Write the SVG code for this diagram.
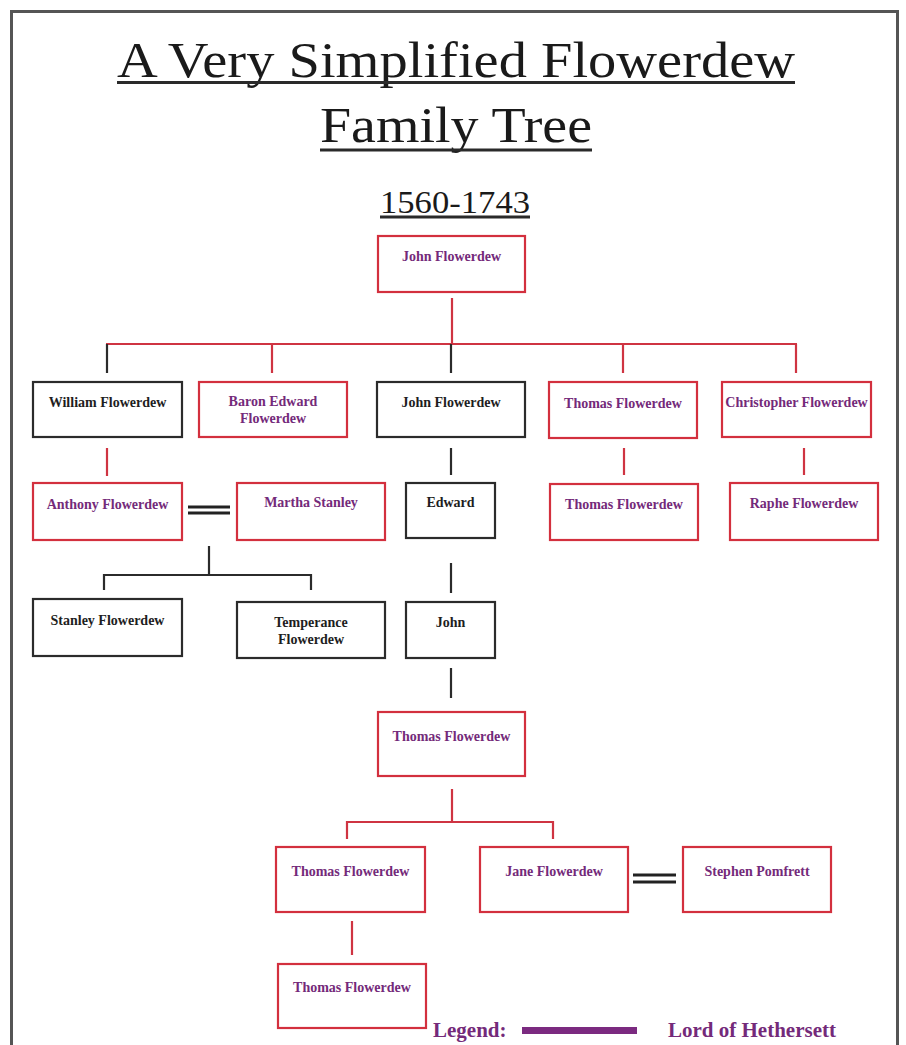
<svg xmlns="http://www.w3.org/2000/svg" width="906" height="1045" viewBox="0 0 906 1045">
<style>
.title{font-family:"Liberation Serif","Times New Roman",serif;fill:#1a1a1a}
.ul{stroke:#2a2a2a;stroke-width:3}
.rb{fill:#fff;stroke:#d3303e;stroke-width:2.2}
.bb{fill:#fff;stroke:#2b2b2b;stroke-width:2.2}
.pt{font-family:"Liberation Serif","Times New Roman",serif;font-weight:bold;font-size:14px;fill:#742a7a;text-anchor:middle}
.bt{font-family:"Liberation Serif","Times New Roman",serif;font-weight:bold;font-size:14px;fill:#1e1e1e;text-anchor:middle}
.rl{stroke:#cf3442;stroke-width:2.2;fill:none}
.dl{stroke:#2b2b2b;stroke-width:2.2;fill:none}
.eq{stroke:#222;stroke-width:3}
.leg{font-family:"Liberation Serif","Times New Roman",serif;font-weight:bold;font-size:21px;fill:#742a7a}
</style>
<rect width="906" height="1045" fill="#fff"/>
<path d="M11.5,1045 V11.5 H897.5 V1045" fill="none" stroke="#555" stroke-width="3"/>

<g id="title">
<text class="title" x="117" y="77" font-size="50" textLength="678" lengthAdjust="spacingAndGlyphs">A Very Simplified Flowerdew</text>
<line class="ul" x1="117" y1="82.5" x2="795" y2="82.5"/>
<text class="title" x="320" y="142" font-size="50" textLength="272" lengthAdjust="spacingAndGlyphs">Family Tree</text>
<line class="ul" x1="320" y1="150" x2="592" y2="150"/>
<text class="title" x="380" y="212.5" font-size="31" textLength="150" lengthAdjust="spacingAndGlyphs">1560-1743</text>
<line class="ul" x1="380" y1="217" x2="530" y2="217"/>
</g>

<g id="connectors">
<line class="rl" x1="452" y1="298" x2="452" y2="344"/>
<line class="rl" x1="106" y1="344" x2="797" y2="344"/>
<line class="dl" x1="107" y1="344" x2="107" y2="373"/>
<line class="rl" x1="272" y1="344" x2="272" y2="373"/>
<line class="dl" x1="451" y1="344" x2="451" y2="373"/>
<line class="rl" x1="623" y1="344" x2="623" y2="373"/>
<line class="rl" x1="796" y1="344" x2="796" y2="373"/>
<line class="rl" x1="107" y1="448" x2="107" y2="476"/>
<line class="dl" x1="451" y1="448" x2="451" y2="475"/>
<line class="rl" x1="624" y1="448" x2="624" y2="475"/>
<line class="rl" x1="804" y1="448" x2="804" y2="475"/>
<line class="eq" x1="188" y1="507" x2="230" y2="507"/>
<line class="eq" x1="188" y1="513" x2="230" y2="513"/>
<line class="dl" x1="209" y1="546" x2="209" y2="575"/>
<path class="dl" d="M104,590 V575 H311 V590"/>
<line class="dl" x1="451" y1="563" x2="451" y2="593"/>
<line class="dl" x1="451" y1="668" x2="451" y2="698"/>
<line class="rl" x1="452" y1="789" x2="452" y2="822"/>
<path class="rl" d="M347,839 V822 H553 V839"/>
<line class="eq" x1="633" y1="875" x2="676" y2="875"/>
<line class="eq" x1="633" y1="882" x2="676" y2="882"/>
<line class="rl" x1="352" y1="921" x2="352" y2="955"/>
</g>

<g id="n-john-top"><rect class="rb" x="378" y="236" width="147" height="56"/><text class="pt" x="451.5" y="261">John Flowerdew</text></g>

<g id="n-william"><rect class="bb" x="33" y="382" width="149" height="55"/><text class="bt" x="107.5" y="407">William Flowerdew</text></g>
<g id="n-baron-edward"><rect class="rb" x="199" y="382" width="148" height="55"/><text class="pt" x="273" y="406">Baron Edward</text><text class="pt" x="273" y="423">Flowerdew</text></g>
<g id="n-john-2"><rect class="bb" x="377" y="382" width="148" height="55"/><text class="bt" x="451" y="407">John Flowerdew</text></g>
<g id="n-thomas-2"><rect class="rb" x="549" y="382" width="148" height="56"/><text class="pt" x="623" y="408">Thomas Flowerdew</text></g>
<g id="n-christopher"><rect class="rb" x="722" y="382" width="149" height="55"/><text class="pt" x="796.5" y="407">Christopher Flowerdew</text></g>

<g id="n-anthony"><rect class="rb" x="33" y="483" width="149" height="57"/><text class="pt" x="107.5" y="509">Anthony Flowerdew</text></g>
<g id="n-martha"><rect class="rb" x="237" y="483" width="148" height="57"/><text class="pt" x="311" y="507">Martha Stanley</text></g>
<g id="n-edward"><rect class="bb" x="406" y="483" width="89" height="55"/><text class="bt" x="450.5" y="507">Edward</text></g>
<g id="n-thomas-3"><rect class="rb" x="550" y="484" width="148" height="56"/><text class="pt" x="624" y="509">Thomas Flowerdew</text></g>
<g id="n-raphe"><rect class="rb" x="730" y="483" width="148" height="57"/><text class="pt" x="804" y="508">Raphe Flowerdew</text></g>

<g id="n-stanley"><rect class="bb" x="33" y="599" width="149" height="57"/><text class="bt" x="107.5" y="625">Stanley Flowerdew</text></g>
<g id="n-temperance"><rect class="bb" x="237" y="602" width="148" height="56"/><text class="bt" x="311" y="627">Temperance</text><text class="bt" x="311" y="644">Flowerdew</text></g>
<g id="n-john-4"><rect class="bb" x="406" y="602" width="89" height="56"/><text class="bt" x="450.5" y="627">John</text></g>

<g id="n-thomas-5"><rect class="rb" x="378" y="712" width="147" height="64"/><text class="pt" x="451.5" y="741">Thomas Flowerdew</text></g>

<g id="n-thomas-6"><rect class="rb" x="276" y="847" width="149" height="65"/><text class="pt" x="350.5" y="876">Thomas Flowerdew</text></g>
<g id="n-jane"><rect class="rb" x="480" y="847" width="148" height="65"/><text class="pt" x="554" y="876">Jane Flowerdew</text></g>
<g id="n-stephen"><rect class="rb" x="683" y="847" width="148" height="65"/><text class="pt" x="757" y="876">Stephen Pomfrett</text></g>

<g id="n-thomas-7"><rect class="rb" x="278" y="964" width="148" height="64"/><text class="pt" x="352" y="992">Thomas Flowerdew</text></g>

<g id="legend">
<text class="leg" x="433" y="1037">Legend:</text>
<rect x="522" y="1027" width="115" height="7" fill="#7b2a80"/>
<text class="leg" x="668" y="1037">Lord of Hethersett</text>
</g>
</svg>
